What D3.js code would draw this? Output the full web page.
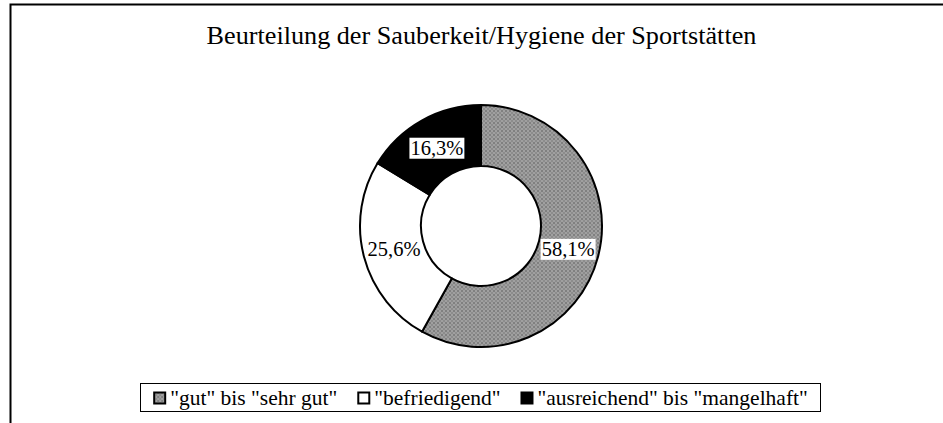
<!DOCTYPE html>
<html><head><meta charset="utf-8">
<script src="https://cdn.jsdelivr.net/npm/d3@7"></script>
</head><body style="margin:0">
<script>
const title = "Beurteilung der Sauberkeit/Hygiene der Sportstätten";
const categories = ["\"gut\" bis \"sehr gut\"", "\"befriedigend\"", "\"ausreichend\" bis \"mangelhaft\""];
const values = [58.1, 25.6, 16.3];
const labels = ["58,1%", "25,6%", "16,3%"];

const FONT = "'Liberation Serif', 'Times New Roman', Times, serif";
const W = 943, H = 423;
const svg = d3.select("body").append("svg").attr("width", W).attr("height", H).style("display", "block")
  .attr("font-family", FONT).style("font-family", FONT);
const defs = svg.append("defs");
const pat = defs.append("pattern").attr("id", "dots").attr("width", 4).attr("height", 4).attr("patternUnits", "userSpaceOnUse");
pat.append("rect").attr("width", 4).attr("height", 4).attr("fill", "#a0a0a0");
pat.append("rect").attr("width", 2).attr("height", 2).attr("fill", "#808080");
pat.append("rect").attr("x", 2).attr("y", 2).attr("width", 2).attr("height", 2).attr("fill", "#8c8c8c");

const fills = ["url(#dots)", "#ffffff", "#000000"];
const color = d3.scaleOrdinal().domain(categories).range(fills);

svg.append("path").attr("d", `M10.5,${H+2} V4.5 H${W+2}`).attr("fill", "none").attr("stroke", "#000").attr("stroke-width", 2);

svg.append("text").attr("x", 481.5).attr("y", 44).attr("text-anchor", "middle")
  .style("font-family", FONT).attr("font-size", 26.2).text(title);

const cx = 481, cy = 226, R = 121, r = 60;
const pie = d3.pie().sort(null).value(d => d.v);
const arcs = pie(categories.map((c, i) => ({c, v: values[i], l: labels[i]})));
const arc = d3.arc().innerRadius(r).outerRadius(R);
const g = svg.append("g").attr("transform", `translate(${cx},${cy})`);
g.selectAll("path").data(arcs).join("path").attr("d", arc)
  .attr("fill", d => color(d.data.c)).attr("stroke", "#000").attr("stroke-width", 2);

const la = d3.arc().innerRadius(90).outerRadius(90);
arcs.forEach((d, i) => {
  const [x, y] = la.centroid(d);
  const t = g.append("text").attr("x", x).attr("y", y).attr("dy", "0.35em").attr("text-anchor", "middle")
    .style("font-family", FONT).attr("font-size", 20.5).text(d.data.l);
  const b = t.node().getBBox();
  if (i !== 1) g.insert("rect", () => t.node()).attr("x", b.x - 1).attr("y", b.y + 1).attr("width", b.width + 2).attr("height", b.height - 1).attr("fill", "#fff");
});

// legend
const lg = svg.append("g");
const boxL = 140.5, boxR = 820.5;
lg.append("rect").attr("x", boxL).attr("y", 383.5).attr("width", boxR - boxL).attr("height", 28).attr("fill", "#fff").attr("stroke", "#000").attr("stroke-width", 1);
const items = lg.append("g");
let lx = 0;
const GAP = 20;
categories.forEach((c, i) => {
  items.append("rect").attr("x", lx + 1).attr("y", 392.5).attr("width", 11).attr("height", 11)
    .attr("fill", fills[i]).attr("stroke", "#000").attr("stroke-width", 2);
  const t = items.append("text").attr("x", lx + 17).attr("y", 405)
    .style("font-family", FONT).attr("font-size", 21.5).text(c);
  lx += 17 + t.node().getComputedTextLength() + GAP;
});
const total = lx - GAP;
items.attr("transform", `translate(${(boxL + boxR) / 2 - total / 2},0)`);
</script>
</body></html>
